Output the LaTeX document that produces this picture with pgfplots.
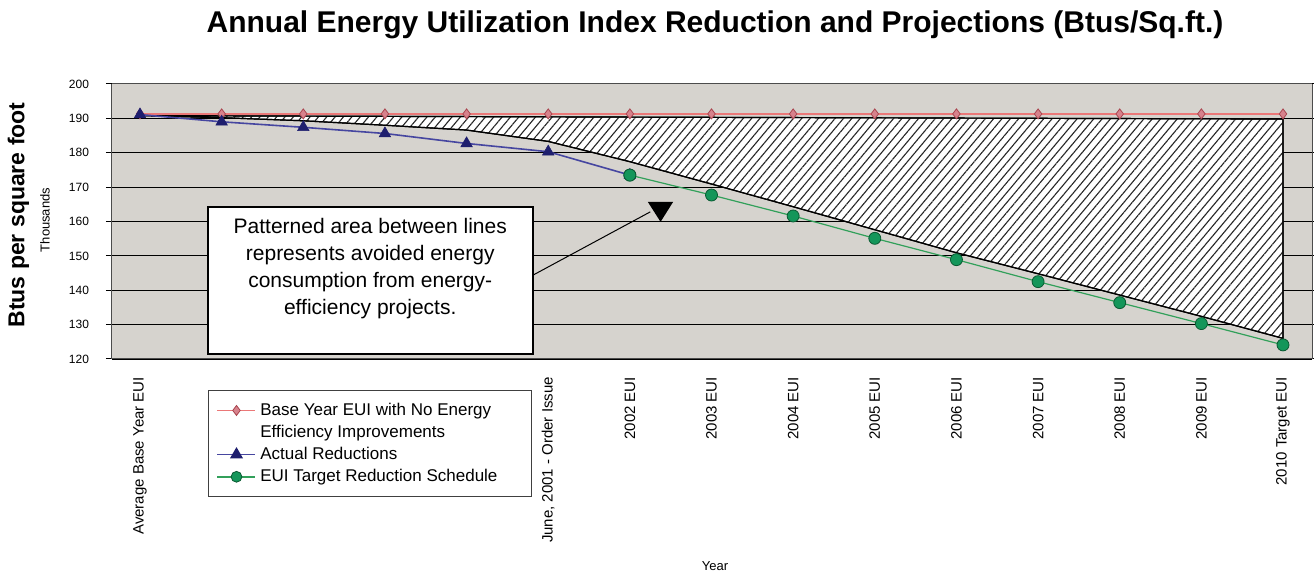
\documentclass[border=0pt]{standalone}
\usepackage{fontspec}
\setmainfont{Liberation Sans}
\usepackage{pgfplots}
\pgfplotsset{compat=1.18}
\usetikzlibrary{patterns.meta}

\definecolor{bggray}{RGB}{214,211,206}
\definecolor{redline}{RGB}{235,120,120}
\definecolor{redmark}{RGB}{215,130,140}
\definecolor{rededge}{RGB}{170,70,80}
\definecolor{blueline}{RGB}{70,70,160}
\definecolor{bluemark}{RGB}{30,30,110}
\definecolor{greenline}{RGB}{50,160,90}
\definecolor{greenmark}{RGB}{20,150,90}
\definecolor{greenedge}{RGB}{10,90,50}

\begin{document}
\begin{tikzpicture}
\begin{axis}[
  name=ax, at={(0,0)}, anchor=north west,
  scale only axis, width=600pt, height=137.5pt,
  xmin=-0.343, xmax=14.355, ymin=120, ymax=200,
  axis background/.style={fill=bggray},
  axis line style={draw=gray!60!black, line width=0.5pt},
  ytick={120,130,...,190},
  extra y ticks={200},
  extra y tick style={grid=none},
  ymajorgrids, grid style={black, line width=0.6pt},
  tick align=outside, major tick length=3pt,
  ytick style={black, line width=0.5pt},
  xtick={0,...,14},
  xtick style={draw=none},
  xticklabels={Average Base Year EUI,,,,,{June, 2001 - Order Issue},2002 EUI,2003 EUI,2004 EUI,2005 EUI,2006 EUI,2007 EUI,2008 EUI,2009 EUI,2010 Target EUI},
  xticklabel style={yshift=-2.5pt, rotate=90, anchor=east, font=\fontsize{7.5}{8.5}\selectfont},
  yticklabel style={xshift=-5pt, font=\fontsize{6}{7}\selectfont},
  /pgf/number format/assume math mode=true,
  every axis title shift=0pt,
  title={Annual Energy Utilization Index Reduction and Projections (Btus/Sq.ft.)},
  title style={at={(axis description cs:0.5025,1.2145)}, anchor=center, font=\fontsize{15}{17}\selectfont\bfseries},
  ylabel={Btus per square foot},
  ylabel style={at={(axis description cs:-0.078,0.524)}, anchor=center, font=\fontsize{11.5}{13}\selectfont\bfseries},
  xlabel={Year},
  xlabel style={at={(axis description cs:0.5025,-0.753)}, anchor=center, font=\fontsize{6.5}{7.5}\selectfont},
  legend style={at={(0.08,-0.113)}, anchor=north west, draw=black!75, line width=0.7pt, fill=white,
    font=\fontsize{8.5}{10}\selectfont, row sep=-0.6pt, inner xsep=4pt, inner ysep=4pt},
  legend cell align=left,
  legend image code/.code={\draw[mark repeat=2,mark phase=2] plot coordinates {(0pt,0pt) (9.5pt,0pt) (19pt,0pt)};},
]
% hatched area (avoided energy)
\addplot[draw=black, line width=0.6pt, fill=white,
  postaction={pattern={Lines[angle=50, distance=3.2pt, line width=0.55pt]}, pattern color=black!85},
  forget plot] coordinates {
  (0,190.8) (14,189.8) (14,126) (13,132.4) (12,138.6) (11,144.8) (10,150.9) (9,157.6)
  (8,164.3) (7,170.9) (6,177.4) (5,183.3) (4,186.6) (3,188.0) (2,189.3) (1,190.2) (0,190.8)} -- cycle;

\addplot[color=redline, line width=0.8pt, mark=diamond*, mark size=2.5pt,
  mark options={fill=redmark, draw=rededge, line width=0.4pt}, forget plot] coordinates {
  (0,191.3) (1,191.3) (2,191.3) (3,191.3) (4,191.3) (5,191.3) (6,191.3) (7,191.3)
  (8,191.3) (9,191.3) (10,191.3) (11,191.3) (12,191.3) (13,191.3) (14,191.3)};

\addplot[color=greenline, line width=0.6pt, mark=*, mark size=3pt,
  mark options={fill=greenmark, draw=greenedge, line width=0.4pt}, forget plot] coordinates {
  (6,173.5) (7,167.7) (8,161.6) (9,155.1) (10,148.9) (11,142.5) (12,136.4) (13,130.3) (14,124.1)};

\addplot[color=blueline, line width=0.8pt, mark=triangle*, mark size=3.3pt,
  mark options={fill=bluemark, draw=bluemark, line width=0.3pt}, forget plot] coordinates {
  (0,191.1) (1,189.0) (2,187.4) (3,185.6) (4,182.7) (5,180.3) (6,173.5)};

\addplot[color=greenline, line width=0.6pt, mark=*, mark size=3pt, only marks,
  mark options={fill=greenmark, draw=greenedge, line width=0.4pt}, forget plot] coordinates {(6,173.5)};

% legend
\addlegendimage{color=redline, line width=0.8pt, mark=diamond*, mark size=2.5pt, mark options={fill=redmark, draw=rededge, line width=0.4pt}}
\addlegendentry{Base Year EUI with No Energy}
\addlegendimage{empty legend}
\addlegendentry{Efficiency Improvements}
\addlegendimage{color=blueline, line width=0.8pt, mark=triangle*, mark size=3pt, mark options={fill=bluemark, draw=bluemark}}
\addlegendentry{Actual Reductions}
\addlegendimage{color=greenline, line width=0.8pt, mark=*, mark size=2.7pt, mark options={fill=greenmark, draw=greenedge, line width=0.4pt}}
\addlegendentry{EUI Target Reduction Schedule\hspace*{11pt}}

% annotation
\draw[fill=white, draw=black, line width=0.7pt] (axis cs:0.833,164.2) rectangle (axis cs:4.814,121.5);
\node[align=center, font=\fontsize{10.5}{13.5}\selectfont] at (axis cs:2.82,146.3)
  {Patterned area between lines\\represents avoided energy\\consumption from energy-\\efficiency projects.};
\draw[black, line width=0.5pt] (axis cs:4.814,144.4) -- (axis cs:6.25,162.8);
\fill[black] (axis cs:6.22,165.7) -- (axis cs:6.53,165.7) -- (axis cs:6.376,159.9) -- cycle;
\end{axis}
\node[rotate=90, anchor=center, font=\fontsize{6.5}{7.5}\selectfont] at (-33.5pt,-68pt) {Thousands};
\pgfresetboundingbox
\useasboundingbox (-56pt,42pt) rectangle (601pt,-246pt);
\end{tikzpicture}
\end{document}
